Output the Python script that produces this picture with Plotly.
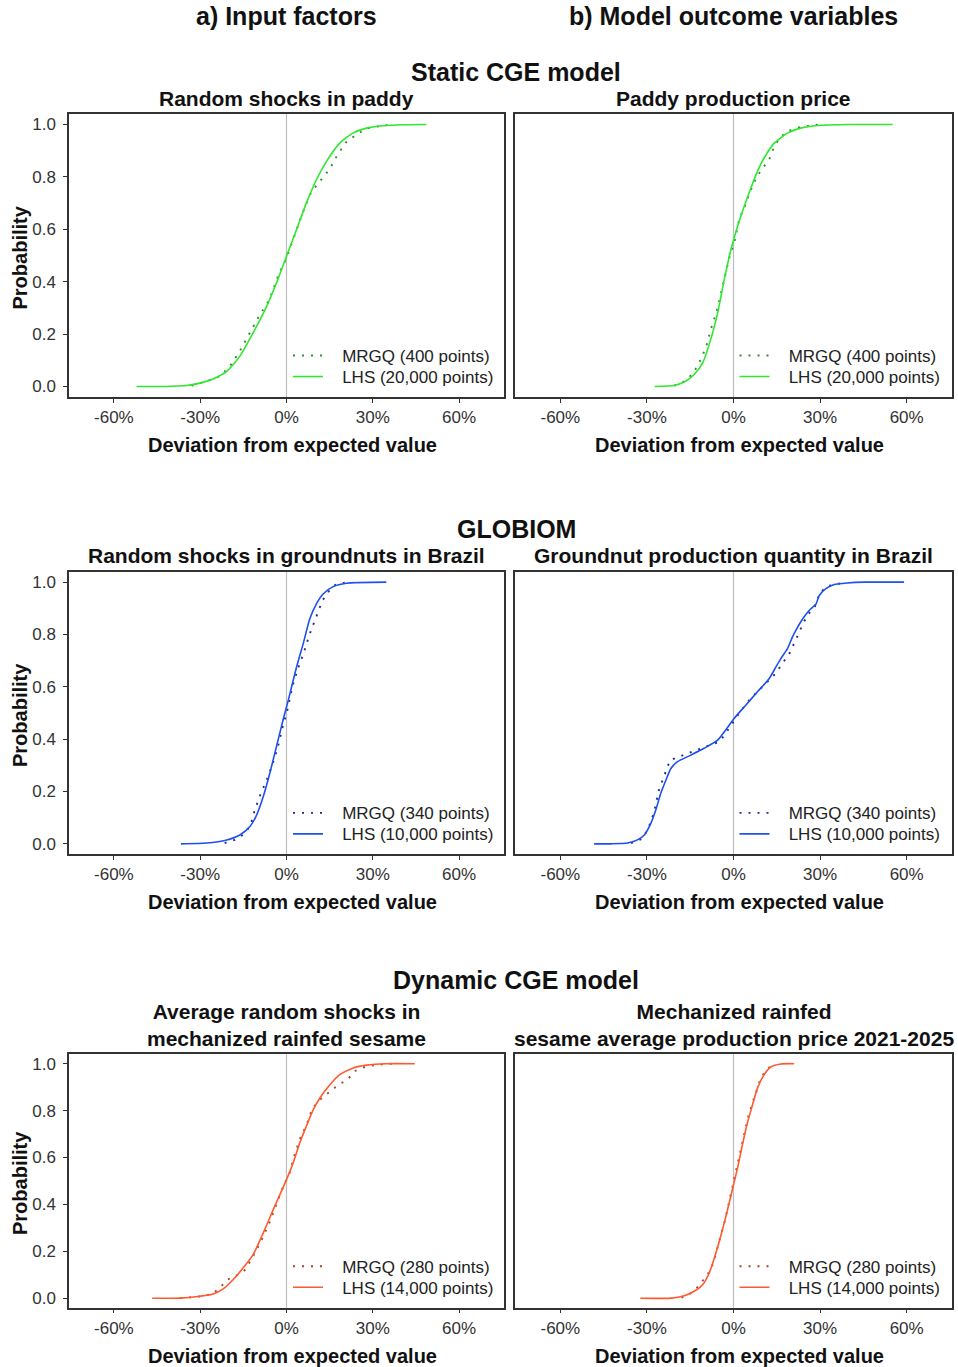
import plotly.graph_objects as go

W, H = 958, 1367

# ---------------- data (deviation in %, cumulative probability) ----------------
# Panel 1: Random shocks in paddy (input)
p1_lhs_x = [-52.1, -45, -40, -34.7, -30.1, -25.5, -20.8, -16.2, -11.6, -6.9, -3.5, 0, 3.5, 6.9, 10.4, 13.9, 18.5, 23.1, 27.8, 33.6, 40, 48.6]
p1_lhs_y = [0.0, 0.0, 0.001, 0.004, 0.013, 0.029, 0.058, 0.116, 0.205, 0.306, 0.395, 0.497, 0.599, 0.700, 0.789, 0.859, 0.929, 0.967, 0.986, 0.995, 0.999, 1.0]
p1_mrgq_x = [-33, -28, -23, -19.5, -16, -13, -9.5, -6, -3, 0, 3, 5.5, 8.5, 12, 15, 17.5, 20.5, 24, 28, 33, 37]
p1_mrgq_y = [0.003, 0.02, 0.04, 0.08, 0.14, 0.2, 0.27, 0.33, 0.42, 0.49, 0.58, 0.66, 0.74, 0.79, 0.83, 0.88, 0.93, 0.96, 0.985, 0.995, 1.0]

# Panel 2: Paddy production price (outcome)
p2_lhs_x = [-27.3, -20.6, -17.1, -13.6, -10.7, -7.9, -5.5, -3.2, -0.9, 1.4, 3.7, 6.0, 8.3, 10.6, 14.1, 18.7, 23.3, 30.3, 40, 55.1]
p2_lhs_y = [0.0, 0.004, 0.017, 0.046, 0.09, 0.179, 0.281, 0.408, 0.522, 0.611, 0.687, 0.757, 0.821, 0.872, 0.929, 0.967, 0.986, 0.997, 1.0, 1.0]
p2_mrgq_x = [-20.5, -17, -14, -11.5, -9.5, -7.8, -5.5, -3.5, -1.5, 0.5, 2, 4, 6, 8, 10, 12.5, 13.5, 16, 19, 23, 30]
p2_mrgq_y = [0.003, 0.02, 0.05, 0.1, 0.15, 0.22, 0.3, 0.4, 0.49, 0.56, 0.64, 0.69, 0.75, 0.8, 0.83, 0.87, 0.9, 0.95, 0.975, 0.99, 1.0]

# Panel 3: Random shocks in groundnuts in Brazil (input)
p3_lhs_x = [-36.7, -27.8, -20.8, -16.2, -12.7, -10.4, -8.1, -5.8, -3.5, -1.2, 0, 1.2, 3.5, 5.8, 8.1, 10.4, 12.7, 16.2, 20.8, 34.7]
p3_lhs_y = [0.0, 0.003, 0.015, 0.034, 0.066, 0.11, 0.18, 0.27, 0.371, 0.473, 0.523, 0.574, 0.676, 0.765, 0.86, 0.917, 0.955, 0.983, 0.996, 1.0]
p3_mrgq_x = [-21.5, -18, -15, -12.5, -11, -9, -7, -5, -3, -1.5, 0.5, 2, 4, 6, 8, 10, 12.5, 15, 17, 21]
p3_mrgq_y = [0.003, 0.015, 0.035, 0.07, 0.13, 0.19, 0.24, 0.3, 0.37, 0.44, 0.52, 0.6, 0.67, 0.73, 0.8, 0.86, 0.93, 0.97, 0.99, 1.0]

# Panel 4: Groundnut production quantity in Brazil (outcome)
p4_lhs_x = [-48.3, -42.5, -36.7, -33.3, -30.9, -28.6, -26.9, -25.2, -23.4, -21.7, -19.4, -14.8, -10.2, -5.5, -2.7, 0.2, 3.7, 8.3, 12.4, 14.7, 16.4, 18.7, 20.4, 21.6, 24.0, 26.2, 28.6, 29.7, 32.0, 34.9, 39.5, 45.3, 59.1]
p4_lhs_y = [0.0, 0.0, 0.003, 0.015, 0.034, 0.079, 0.13, 0.193, 0.244, 0.288, 0.314, 0.339, 0.365, 0.396, 0.435, 0.479, 0.523, 0.581, 0.632, 0.676, 0.708, 0.746, 0.79, 0.816, 0.86, 0.892, 0.917, 0.949, 0.975, 0.991, 0.997, 1.0, 1.0]
p4_mrgq_x = [-35.5, -31.5, -29.5, -27.5, -26, -24, -22, -19.5, -15, -10, -5, -3.5, -1, 2, 5.5, 10, 14.5, 17, 19.5, 22, 24, 26, 28, 30, 32.5, 37]
p4_mrgq_y = [0.003, 0.02, 0.06, 0.12, 0.2, 0.26, 0.32, 0.33, 0.35, 0.37, 0.39, 0.41, 0.45, 0.5, 0.55, 0.6, 0.65, 0.69, 0.73, 0.79, 0.84, 0.88, 0.9, 0.96, 0.985, 0.995]

# Panel 5: Average random shocks in mechanized rainfed sesame (input)
p5_lhs_x = [-46.7, -37.1, -30.1, -25.5, -22.0, -18.5, -15.1, -11.6, -8.1, -4.6, -2.3, 0, 2.3, 4.6, 6.9, 9.3, 11.6, 15.1, 18.5, 23.2, 27.8, 34.8, 44.6]
p5_lhs_y = [0.0, 0.001, 0.009, 0.018, 0.04, 0.08, 0.129, 0.186, 0.278, 0.378, 0.442, 0.506, 0.577, 0.662, 0.733, 0.804, 0.854, 0.91, 0.953, 0.982, 0.994, 1.0, 1.0]
p5_mrgq_x = [-37, -30, -26, -23.5, -20.5, -17, -14.5, -12, -9, -6, -3.5, -1, 1, 3, 5, 7, 9, 12, 15, 18, 21, 24, 27, 31, 37]
p5_mrgq_y = [0.001, 0.008, 0.018, 0.04, 0.08, 0.1, 0.12, 0.17, 0.24, 0.32, 0.4, 0.48, 0.53, 0.62, 0.69, 0.74, 0.81, 0.85, 0.88, 0.91, 0.93, 0.97, 0.985, 0.995, 1.0]

# Panel 6: Mechanized rainfed sesame average production price 2021-2025 (outcome)
p6_lhs_x = [-32.3, -21.7, -17.1, -13.6, -10.7, -8.4, -6.1, -3.8, -1.5, 0, 1.4, 3.1, 4.8, 6.6, 8.3, 10.6, 12.9, 16.4, 21.0]
p6_lhs_y = [0.0, 0.001, 0.011, 0.03, 0.058, 0.108, 0.193, 0.293, 0.406, 0.484, 0.555, 0.655, 0.747, 0.825, 0.896, 0.953, 0.986, 0.999, 1.0]
p6_mrgq_x = [-18, -15.5, -13, -10.5, -9, -7, -5, -3, -1, 0.5, 2, 3.5, 5, 6.5, 8, 9.5, 11.5, 13.5, 14.7]
p6_mrgq_y = [0.003, 0.015, 0.04, 0.075, 0.1, 0.15, 0.24, 0.33, 0.44, 0.52, 0.61, 0.69, 0.77, 0.83, 0.89, 0.94, 0.975, 0.995, 1.0]

panel_titles = ["Random shocks in paddy", "Paddy production price",
                "Random shocks in groundnuts in Brazil", "Groundnut production quantity in Brazil",
                "Average random shocks in<br>mechanized rainfed sesame",
                "Mechanized rainfed<br>sesame average production price 2021-2025"]
section_titles = ["Static CGE model", "GLOBIOM", "Dynamic CGE model"]
column_titles = ["a) Input factors", "b) Model outcome variables"]
mrgq_names = ["MRGQ (400 points)", "MRGQ (400 points)", "MRGQ (340 points)", "MRGQ (340 points)",
              "MRGQ (280 points)", "MRGQ (280 points)"]
lhs_names = ["LHS (20,000 points)", "LHS (20,000 points)", "LHS (10,000 points)", "LHS (10,000 points)",
             "LHS (14,000 points)", "LHS (14,000 points)"]
x_ticks = [-60, -30, 0, 30, 60]
y_ticks = [0.0, 0.2, 0.4, 0.6, 0.8, 1.0]

lhs_x = [p1_lhs_x, p2_lhs_x, p3_lhs_x, p4_lhs_x, p5_lhs_x, p6_lhs_x]
lhs_y = [p1_lhs_y, p2_lhs_y, p3_lhs_y, p4_lhs_y, p5_lhs_y, p6_lhs_y]
mrgq_x = [p1_mrgq_x, p2_mrgq_x, p3_mrgq_x, p4_mrgq_x, p5_mrgq_x, p6_mrgq_x]
mrgq_y = [p1_mrgq_y, p2_mrgq_y, p3_mrgq_y, p4_mrgq_y, p5_mrgq_y, p6_mrgq_y]

# ---------------- styling ----------------
lhs_colors = ["#2EE82E", "#2EE82E", "#1F4FF0", "#1F4FF0", "#FF5A30", "#FF5A30"]
mrgq_colors = ["#2F8F2F", "#2F8F2F", "#1F2A99", "#1F2A99", "#B04226", "#B04226"]

FONT = "Liberation Sans, Arial, Helvetica, sans-serif"
GAP = "\u00a0\u00a0\u00a0"  # spacing between legend key and label

def px_x(p):
    return p / W

def px_y(p):
    return 1 - p / H

col_px = [(69, 504), (515.3, 951.7)]
row_px = [(114, 397), (571.7, 854.3), (1054.3, 1307.7)]

fig = go.Figure()
layout = dict(
    width=W, height=H, margin=dict(l=0, r=0, t=0, b=0),
    paper_bgcolor="white", plot_bgcolor="white",
    font=dict(family=FONT, color="#333333"),
    showlegend=True,
)

annotations = []
shapes = []

def legend_key(k):
    return "legend" if k == 1 else f"legend{k}"

for i in range(6):
    r, c = divmod(i, 2)
    n = i + 1
    xa = "xaxis" if n == 1 else f"xaxis{n}"
    ya = "yaxis" if n == 1 else f"yaxis{n}"
    xr = "x" if n == 1 else f"x{n}"
    yr = "y" if n == 1 else f"y{n}"
    x0p, x1p = col_px[c]
    y0p, y1p = row_px[r]
    layout[xa] = dict(
        domain=[px_x(x0p), px_x(x1p)], anchor=yr, range=[-75.6, 75.6],
        tickvals=x_ticks, ticktext=[f"{v}%" for v in x_ticks],
        showline=True, mirror=True, linecolor="#333333", linewidth=1.5,
        ticks="outside", ticklen=4, tickwidth=1, tickcolor="#333333",
        showgrid=False, zeroline=False, fixedrange=True,
        tickfont=dict(size=17, color="#333333", family=FONT),
    )
    layout[ya] = dict(
        domain=[px_y(y1p), px_y(y0p)], anchor=xr, range=[-0.04, 1.04],
        tickvals=y_ticks, ticktext=[f"{v:.1f}" for v in y_ticks],
        showline=True, mirror=True, linecolor="#333333", linewidth=1.5,
        ticks="outside" if c == 0 else "", ticklen=4, tickwidth=1, tickcolor="#333333",
        showticklabels=(c == 0), ticklabelstandoff=4,
        showgrid=False, zeroline=False, fixedrange=True,
        tickfont=dict(size=17, color="#333333", family=FONT),
    )
    # vertical reference line at 0
    shapes.append(dict(type="line", xref=xr, yref=f"{yr} domain", x0=0, x1=0, y0=0, y1=1,
                       line=dict(color="#BDBDBD", width=1.2), layer="below"))

    lg_m = legend_key(2 * i + 1)
    lg_l = legend_key(2 * i + 2)
    fig.add_trace(go.Scatter(
        x=mrgq_x[i], y=mrgq_y[i], mode="lines", name=GAP + mrgq_names[i],
        line=dict(color=mrgq_colors[i], width=1.9, dash="2px,7px"),
        xaxis=xr, yaxis=yr, legend=lg_m, hoverinfo="skip"))
    fig.add_trace(go.Scatter(
        x=lhs_x[i], y=lhs_y[i], mode="lines", name=GAP + lhs_names[i],
        line=dict(color=lhs_colors[i], width=1.6, shape="spline", smoothing=0.6),
        xaxis=xr, yaxis=yr, legend=lg_l, hoverinfo="skip"))

    leg_left = 288 if c == 0 else 734.5
    for lg, cy in ((lg_m, y1p - 41), (lg_l, y1p - 20)):
        layout[lg] = dict(
            x=px_x(leg_left), y=px_y(cy), xanchor="left", yanchor="middle",
            bgcolor="rgba(0,0,0,0)", borderwidth=0,
            font=dict(size=17, color="#222222", family=FONT),
            itemwidth=30,
        )

    # panel title
    cx = (x0p + x1p) / 2
    ty = y0p - 16 if r < 2 else y0p - 29
    annotations.append(dict(text=f"<b>{panel_titles[i]}</b>", x=px_x(cx), y=px_y(ty),
                            xref="paper", yref="paper", showarrow=False, xanchor="center",
                            yanchor="middle", font=dict(size=21, color="#111111", family=FONT)))
    # x-axis title
    annotations.append(dict(text="<b>Deviation from expected value</b>", x=px_x(cx + 6), y=px_y(y1p + 48),
                            xref="paper", yref="paper", showarrow=False, xanchor="center",
                            yanchor="middle", font=dict(size=20, color="#111111", family=FONT)))
    # y-axis title
    if c == 0:
        annotations.append(dict(text="<b>Probability</b>", x=px_x(20), y=px_y((y0p + y1p) / 2 + 2),
                                xref="paper", yref="paper", showarrow=False, xanchor="center",
                                yanchor="middle", textangle=-90,
                                font=dict(size=20, color="#111111", family=FONT)))

# column titles
for t, cx in zip(column_titles, [286, 733]):
    annotations.append(dict(text=f"<b>{t}</b>", x=px_x(cx), y=px_y(16), xref="paper", yref="paper",
                            showarrow=False, xanchor="center", yanchor="middle",
                            font=dict(size=25, color="#111111", family=FONT)))
# section titles
for t, cy in zip(section_titles, [72, 529, 980]):
    annotations.append(dict(text=f"<b>{t}</b>", x=px_x(516), y=px_y(cy), xref="paper", yref="paper",
                            showarrow=False, xanchor="center", yanchor="middle",
                            font=dict(size=25, color="#111111", family=FONT)))

layout["annotations"] = annotations
layout["shapes"] = shapes
fig.update_layout(**layout)
fig.write_html("out.html")
